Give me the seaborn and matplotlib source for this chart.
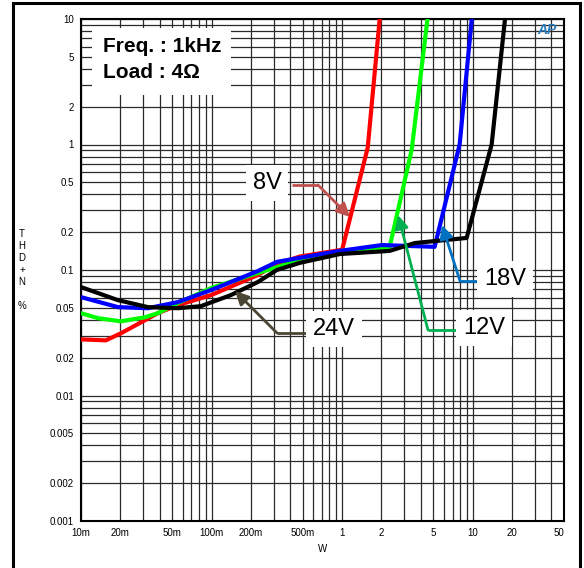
import matplotlib
matplotlib.use("Agg")
import matplotlib.pyplot as plt
from matplotlib.patches import Rectangle, Polygon
from matplotlib.ticker import FixedLocator, FixedFormatter, NullFormatter
import seaborn as sns
import pandas as pd

# ---------------- data ----------------
series_names = ["8V", "12V", "18V", "24V"]
series_colors = ["#ff0000", "#00ff00", "#0000ff", "#000000"]

x_8v = [0.01, 0.0155, 0.0202, 0.0309, 0.0388, 0.0552, 0.0989, 0.226, 0.316, 0.474, 1.0, 1.57, 1.97]
y_8v = [0.028, 0.0275, 0.0313, 0.0398, 0.0453, 0.0525, 0.063, 0.0912, 0.112, 0.128, 0.145, 0.946, 12.0]

x_12v = [0.01, 0.0135, 0.0202, 0.0309, 0.0388, 0.0552, 0.099, 0.226, 0.474, 1.0, 1.5, 2.31, 3.41, 4.6]
y_12v = [0.0453, 0.0413, 0.039, 0.042, 0.0453, 0.0545, 0.0718, 0.0946, 0.12, 0.142, 0.146, 0.152, 0.912, 12.0]

x_18v = [0.01, 0.0192, 0.0326, 0.0552, 0.099, 0.226, 0.316, 0.474, 0.96, 2.01, 5.11, 7.94, 10.0]
y_18v = [0.0608, 0.0506, 0.0496, 0.0555, 0.0692, 0.098, 0.116, 0.125, 0.142, 0.158, 0.153, 1.0, 12.0]

x_24v = [0.01, 0.0192, 0.0326, 0.0552, 0.0828, 0.14, 0.226, 0.316, 0.474, 0.96, 2.31, 3.6, 8.98, 13.96, 18.0]
y_24v = [0.0731, 0.0575, 0.0506, 0.0496, 0.0515, 0.063, 0.0802, 0.1, 0.114, 0.134, 0.142, 0.164, 0.18, 1.0, 12.0]

x_tick_values = [0.01, 0.02, 0.05, 0.1, 0.2, 0.5, 1, 2, 5, 10, 20, 50]
x_tick_labels = ["10m", "20m", "50m", "100m", "200m", "500m", "1", "2", "5", "10", "20", "50"]
y_tick_values = [0.001, 0.002, 0.005, 0.01, 0.02, 0.05, 0.1, 0.2, 0.5, 1, 2, 5, 10]
y_tick_labels = ["0.001", "0.002", "0.005", "0.01", "0.02", "0.05", "0.1", "0.2", "0.5", "1", "2", "5", "10"]

# ---------------- build table ----------------
frames = []
for name, xs, ys in zip(series_names, [x_8v, x_12v, x_18v, x_24v], [y_8v, y_12v, y_18v, y_24v]):
    frames.append(pd.DataFrame({"W": xs, "THD": ys, "series": name, "order": range(len(xs))}))
df = pd.concat(frames, ignore_index=True)

sns.set_theme(style="white")
plt.rcParams["font.family"] = ["Liberation Sans", "DejaVu Sans"]

W, H = 584, 568
fig = plt.figure(figsize=(W / 100, H / 100), dpi=100)
L, R, T, B = 81, 564, 19, 521
ax = fig.add_axes([L / W, 1 - B / H, (R - L) / W, (B - T) / H])
ax.set_xscale("log")
ax.set_yscale("log")

sns.lineplot(data=df, x="W", y="THD", hue="series", hue_order=series_names,
             palette=series_colors, sort=False, estimator=None, units="series",
             linewidth=3.0, legend=False, ax=ax)
for ln in ax.lines:
    ln.set_solid_joinstyle("round")
    ln.set_zorder(3)

ax.set_xlim(0.01, 50)
ax.set_ylim(0.001, 10)

# minor positions for grid
def log_minors(lo_exp, hi_exp, top):
    vals = []
    for e in range(lo_exp, hi_exp + 1):
        for k in range(1, 10):
            v = k * 10.0 ** e
            if v <= top * 1.0001:
                vals.append(v)
    return vals

ax.xaxis.set_major_locator(FixedLocator(x_tick_values))
ax.xaxis.set_major_formatter(FixedFormatter(x_tick_labels))
ax.xaxis.set_minor_locator(FixedLocator(log_minors(-2, 1, 50)))
ax.xaxis.set_minor_formatter(NullFormatter())
ax.yaxis.set_major_locator(FixedLocator(y_tick_values))
ax.yaxis.set_major_formatter(FixedFormatter(y_tick_labels))
ax.yaxis.set_minor_locator(FixedLocator(log_minors(-3, 1, 10)))
ax.yaxis.set_minor_formatter(NullFormatter())

ax.tick_params(which="major", direction="out", length=3, width=0.8, labelsize=7,
               pad=2, color="black", labelcolor="black")
ax.tick_params(which="minor", length=0)
ax.grid(which="both", color="#2a2a2a", linewidth=0.9)
ax.set_axisbelow(True)
for sp in ax.spines.values():
    sp.set_visible(True)
    sp.set_color("black")
    sp.set_linewidth(1.5)
ax.get_xticklabels()[-1].set_ha("right")

ax.set_xlabel("W", fontsize=7, labelpad=4, color="black")
ax.set_ylabel("")

def pa(px, py):
    return ((px - L) / (R - L), (B - py) / (B - T))

# info box
ax.add_patch(Rectangle(pa(92, 95), (231 - 92) / (R - L), (95 - 28) / (B - T),
                       transform=ax.transAxes, facecolor="white", edgecolor="none", zorder=4))
ax.text(*pa(103, 46), "Freq. : 1kHz", transform=ax.transAxes, fontsize=15,
        fontweight="bold", ha="left", va="center", zorder=5, color="black")
ax.text(*pa(103, 73), "Load : 4Ω", transform=ax.transAxes, fontsize=15,
        fontweight="bold", ha="left", va="center", zorder=5, color="black")

# annotations
annots = [
    # label, text center, line start, elbow, tip, color
    ("8V", (267, 183), (292, 185), (318, 185), (350, 217), "#c0504d"),
    ("24V", (334, 329), (307, 333), (277, 333), (235, 291), "#4a4634"),
    ("18V", (505, 279), (479, 281), (460, 281), (442, 225), "#0070c0"),
    ("12V", (484, 328), (459, 330), (428, 330), (398, 215), "#00b050"),
]
for lab, tc, p0, p1, tip, col in annots:
    a0, a1 = pa(*p0), pa(*p1)
    ax.plot([a0[0], a1[0]], [a0[1], a1[1]], transform=ax.transAxes, color=col,
            lw=2, solid_capstyle="butt", zorder=6)
    ax.annotate("", xy=pa(*tip), xytext=a1, xycoords="axes fraction",
                textcoords="axes fraction",
                arrowprops=dict(arrowstyle="-|>", color=col, lw=2, mutation_scale=20,
                                shrinkA=0, shrinkB=0), zorder=6)
    ax.text(*pa(*tc), lab, transform=ax.transAxes, fontsize=17, ha="center", va="center",
            color="black", zorder=7,
            bbox=dict(facecolor="white", edgecolor="none", pad=5))

# AP logo
ax.text(*pa(547, 30), "AP", transform=ax.transAxes, fontsize=10, fontstyle="italic",
        fontweight="bold", color="#2b7bb9", ha="center", va="center", zorder=5)

# y label stacked letters
fig.text(22 / W, 1 - 270 / H, "T\nH\nD\n+\nN\n\n%", fontsize=7, ha="center", va="center",
         linespacing=1.25, color="black")

# outer frame
fig.add_artist(Rectangle((13 / W, -0.05), (580 - 13) / W, 1 - 3 / H + 0.05,
                         transform=fig.transFigure, fill=False, lw=2.2, edgecolor="black"))

fig.savefig("out.png", dpi=100, facecolor="white")
